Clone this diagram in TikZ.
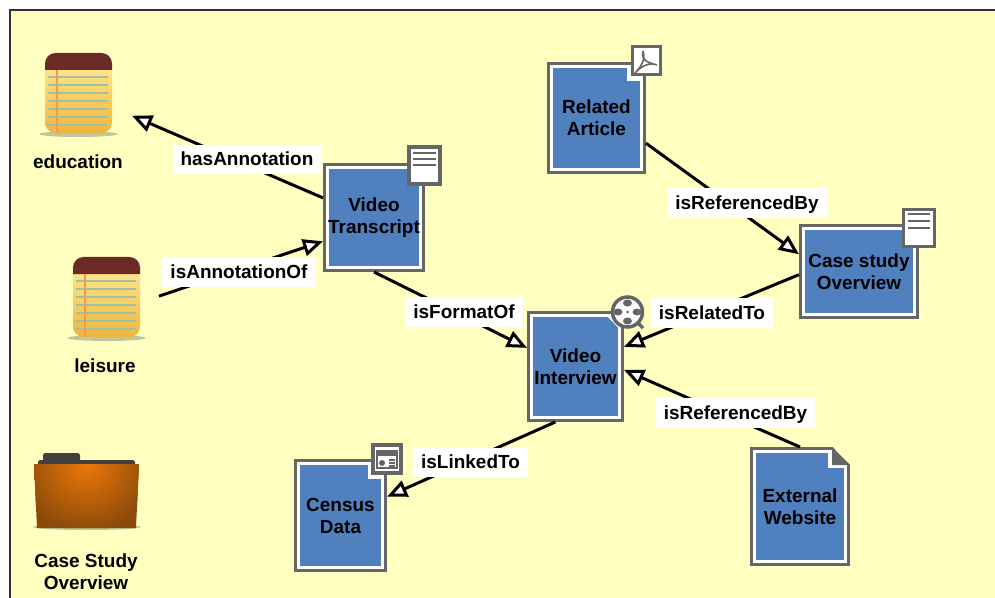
\documentclass[tikz,border=0pt]{standalone}
\usepackage{fontspec}
\setmainfont{Liberation Sans}
\usetikzlibrary{arrows.meta}

\definecolor{paper}{HTML}{FFFFC0}
\definecolor{boxblue}{HTML}{5080BE}
\definecolor{boxgray}{HTML}{666666}
\definecolor{noteHead}{HTML}{6A2A28}
\definecolor{noteTop}{HTML}{FFE88E}
\definecolor{noteBot}{HTML}{EEB53E}
\definecolor{noteRule}{HTML}{A0C0A0}
\definecolor{noteMargin}{HTML}{EE9A5A}
\definecolor{iconShadow}{HTML}{C4C49A}
\definecolor{folderLight}{HTML}{EC780A}
\definecolor{folderDark}{HTML}{8C4A0A}

\tikzset{
    notepad/.pic={
        \fill[iconShadow] (33.5,81) ellipse (39 and 3);
        \shade[top color=noteTop,bottom color=noteBot,rounded corners=6pt] (0,10) rectangle (67,80);
        \foreach \y in {24,32,...,73} \draw[noteRule,line width=1pt] (3,\y) -- (63,\y);
        \draw[noteMargin,line width=1.4pt] (12,16) -- (12,80);
        \fill[noteHead] (0,17) [rounded corners=6pt] -- (0,0) -- (67,0) [sharp corners] -- (67,17) -- cycle;
    },
    folder/.pic={
        \fill[iconShadow] (53,74) ellipse (54 and 3);
        \fill[black!75,rounded corners=1pt] (9,0) rectangle (46,9);
        \fill[black!75,rounded corners=1pt] (4,7) rectangle (101,13);
        \begin{scope}
            \clip (0,11) -- (105,11) -- (102,75) -- (3,75) -- cycle;
            \fill[folderDark] (-5,5) rectangle (110,80);
            \shade[inner color=folderLight,outer color=folderDark] (52,11) circle (68);
        \end{scope}
    }
}

\begin{document}
\begin{tikzpicture}[x=.02cm,y=-.02cm,line cap=butt,line join=miter,
    >={Triangle[fill=white,length=.4cm,width=.34cm]},
    every node/.style={font=\fontsize{10.8}{12.5}\selectfont\bfseries,align=center,text=black},
    docbox/.style={fill=boxgray,outer sep=0pt,inner sep=0pt,
        path picture={
            \fill[white] ([shift={(3,3)}]path picture bounding box.north west) rectangle ([shift={(-3,-3)}]path picture bounding box.south east);
            \fill[boxblue] ([shift={(5.5,5.5)}]path picture bounding box.north west) rectangle ([shift={(-5.5,-5.5)}]path picture bounding box.south east);
        }},
    iconbox/.style={minimum width=2.16cm,minimum height=1.68cm,outer sep=0pt,inner sep=0pt},
    relation/.style={fill=white,inner xsep=.16cm,inner ysep=0pt,minimum height=.6cm,text height=9.2pt,text depth=2pt},
    link/.style={draw=black,line width=1.7pt,->},
    badge/.style={draw=boxgray,fill=white,line width=2pt,minimum width=.56cm,minimum height=.56cm,inner sep=0pt},
    badgeline/.style={boxgray,line width=1.6pt}
]
\useasboundingbox (0,0) rectangle (995,598);
\fill[white] (0,0) rectangle (995,598);

%% Background and frame
\fill[paper] (10,10) rectangle (995,598);
\draw[black!80,line width=1pt] (10,598) -- (10,10) -- (995,10);

%% Icons on the left
\pic at (45,53) {notepad};
\pic at (73,257) {notepad};
\pic at (34,453) {folder};
\node[iconbox] (noteEducation) at (78,95) {};
\node[iconbox] (noteLeisure) at (105,298) {};
\node (textEducation) at (78,162) {education};
\node (textLeisure) at (105,366) {leisure};
\node (textCaseStudy) at (86,572) {Case Study\\Overview};

%% Resources
\node[docbox,minimum width=2.04cm,minimum height=2.18cm] (videoTranscript) at (374,217.5) {Video\\Transcript};
\node[docbox,minimum width=1.98cm,minimum height=2.24cm] (relatedArticle) at (596.5,118) {Related\\Article};
\node[docbox,minimum width=2.4cm,minimum height=1.9cm] (caseOverview) at (859,271.5) {Case study\\Overview};
\node[docbox,minimum width=1.94cm,minimum height=2.22cm] (videoInterview) at (575.5,366.5) {Video\\Interview};
\node[docbox,minimum width=1.86cm,minimum height=2.26cm] (censusData) at (340.5,515.5) {Census\\Data};
\node[docbox,minimum width=2cm,minimum height=2.38cm] (externalWebsite) at (800,506.5) {External\\Website};

%% Folded corner of the website
\fill[white] (828,452) rectangle (845,468);
\fill[paper] (832,446) -- (851,446) -- (851,465) -- (850,465) -- cycle;
\fill[boxgray] (832,447) -- (850,465) -- (832,465) -- cycle;

%% Relations
\draw[link] (videoTranscript.159) -- (noteEducation.339);
\draw[link] (noteLeisure.2) -- (videoTranscript.205);
\draw[link] (videoTranscript.south) -- (videoInterview.159);
\draw[link] (relatedArticle.333) -- (caseOverview.164);
\draw[link] (caseOverview.183) -- (videoInterview.22);
\draw[link] (externalWebsite.north) -- (videoInterview.356);
\draw[link] (videoInterview.250) -- (censusData.22);

\node[relation] (labelHasAnnotation) at (247,159.5) {hasAnnotation};
\node[relation] (labelAnnotationOf) at (239,272) {isAnnotationOf};
\node[relation] (labelFormatOf) at (464,312) {isFormatOf};
\node[relation] (labelLinkedTo) at (470.5,462.5) {isLinkedTo};
\node[relation] (labelArticleRef) at (747,203) {isReferencedBy};
\node[relation] (labelRelatedTo) at (712,313) {isRelatedTo};
\node[relation] (labelWebsiteRef) at (735.5,413) {isReferencedBy};

%% Badges
\fill[white] (627,67) rectangle (641,81);
\fill[white] (368,465) rectangle (382,479);
\fill[white] (607,316) -- (620.5,316) -- (620.5,330) -- cycle;

\node[badge,minimum width=.62cm,minimum height=.74cm] (badgeTranscript) at (424.5,165.5) {};
\foreach \y in {153,159,165} \draw[badgeline] (413,\y) -- (436,\y);

\node[badge,minimum width=.62cm,minimum height=.74cm] (badgeOverview) at (919,228) {};
\foreach \y in {214,221,228} \draw[badgeline] (908,\y) -- (930,\y);

\node[badge] (badgeArticle) at (646.5,60.5) {};
\draw[badgeline,line width=.9pt] (643,51) .. controls (641,60) and (646,62) .. (657,65) .. controls (650,62) and (641,66) .. (635,73) .. controls (640,68) and (646,60) .. (643,51);

\node[badge] (badgeCensus) at (387,459) {};
\draw[badgeline,line width=.7pt] (377,451) rectangle (397,468);
\fill[boxgray] (377,451) rectangle (397,456);
\fill[boxgray] (382,463) circle (3);
\foreach \y in {460,463,466} \draw[badgeline,line width=.7pt] (389,\y) -- (395,\y);

\draw[badgeline,line width=2pt] (638,323) -- (643,328);
\node[badge,circle,minimum width=.6cm,minimum height=.6cm] (reelInterview) at (627.5,312) {};
\foreach \cx/\cy in {627.5/303,627.5/321,618/312,637/312} \fill[boxgray] (\cx,\cy) ellipse (4.5 and 3.5);
\fill[boxgray] (627.5,312) circle (1.5);

\end{tikzpicture}
\end{document}
